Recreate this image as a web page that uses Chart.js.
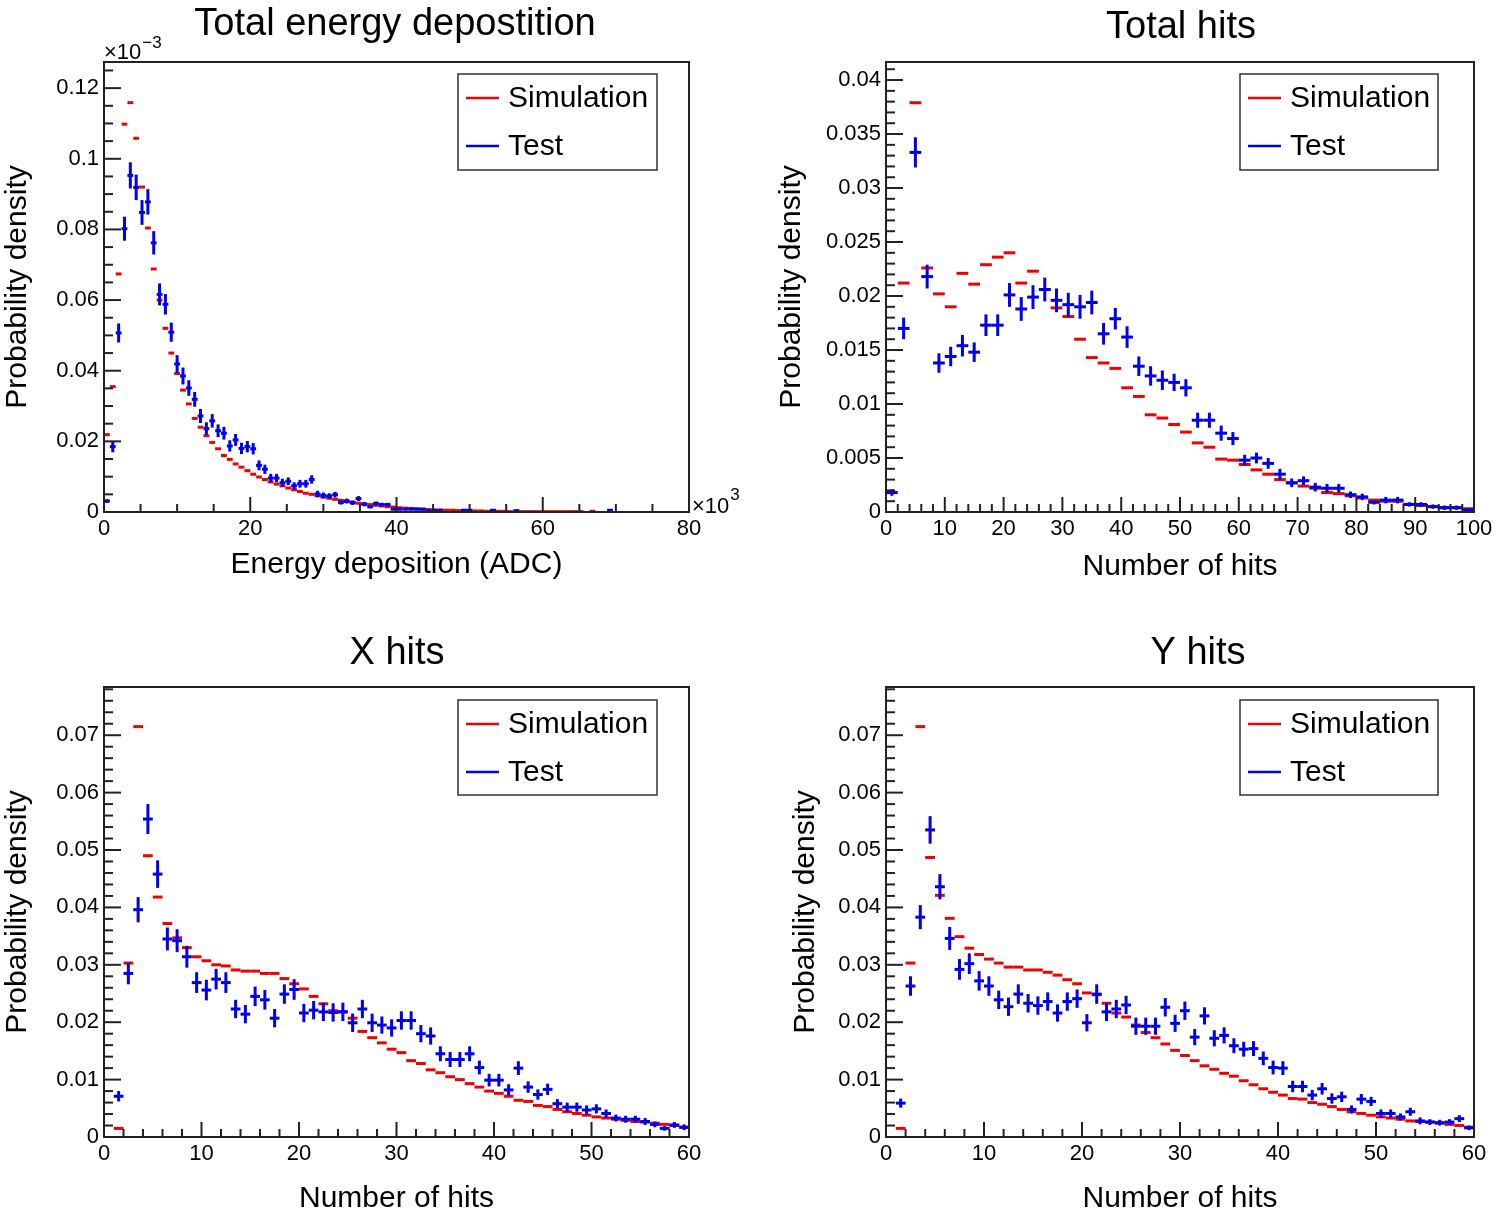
<!DOCTYPE html>
<html>
<head>
<meta charset="utf-8">
<script src="https://cdn.jsdelivr.net/npm/chart.js@4.4.1/dist/chart.umd.min.js"></script>
<style>
    html, body { margin: 0; padding: 0; background: #fff; }
    #grid { position: relative; width: 1502px; height: 1214px; }
    .cell { position: absolute; width: 751px; height: 607px; }
</style>
</head>
<body>
<div id="grid">
    <div class="cell" style="left:0;top:0"><canvas id="cEnergy" width="751" height="607"></canvas></div>
    <div class="cell" style="left:751px;top:0"><canvas id="cHits" width="751" height="607"></canvas></div>
    <div class="cell" style="left:0;top:607px"><canvas id="cXHits" width="751" height="607"></canvas></div>
    <div class="cell" style="left:751px;top:607px"><canvas id="cYHits" width="751" height="607"></canvas></div>
</div>
<script>
// DADOS: DEPOSICAO TOTAL DE ENERGIA (bins de 0.8 x10^3 ADC)
const energyBinWidth = 0.8;
const energyXTicks = [0, 20, 40, 60, 80];
const energyYTicks = [0, 0.02, 0.04, 0.06, 0.08, 0.1, 0.12];
const energySim = [
    0.0219, 0.0355, 0.0674, 0.1098, 0.1159, 0.1058, 0.0920, 0.0804, 0.0688, 0.0600,
    0.0520, 0.0450, 0.0392, 0.0345, 0.0306, 0.0265, 0.0240, 0.0216, 0.0197, 0.0179,
    0.0160, 0.0149, 0.0136, 0.0127, 0.0117, 0.0107, 0.0099, 0.0092, 0.0085, 0.0079,
    0.0074, 0.0068, 0.0063, 0.0058, 0.0053, 0.0050, 0.0046, 0.0042, 0.0039, 0.0036,
    0.0033, 0.0030, 0.0028, 0.0025, 0.0023, 0.0021, 0.0019, 0.0017, 0.0015, 0.0014,
    0.0012, 0.0011, 0.0010, 0.0009, 0.0008, 0.0007, 0.0006, 0.0006, 0.0005, 0.0005,
    0.0004, 0.0004, 0.0003, 0.0003, 0.0003, 0.0002, 0.0002, 0.0002, 0.0002, 0.0001,
    0.0001, 0.0001, 0.0001, 0.0001, 0.0001, 0.0001, 0.0001, 0.0001, 0.0001, 0.0001,
    0.0001, 0.0001, null, 0.0002
];
const energyTest = [
    0.0031, 0.0185, 0.0507, 0.0802, 0.0953, 0.0919, 0.0848, 0.0878, 0.0762, 0.0616,
    0.0588, 0.0509, 0.0419, 0.0385, 0.0351, 0.0319, 0.0272, 0.0236, 0.0258, 0.0230,
    0.0223, 0.0187, 0.0204, 0.0180, 0.0185, 0.0179, 0.0132, 0.0121, 0.0096, 0.0096,
    0.0083, 0.0087, 0.0074, 0.0080, 0.0080, 0.0092, 0.0051, 0.0047, 0.0045, 0.0049,
    0.0027, 0.0031, 0.0026, 0.0038, 0.0022, 0.0015, 0.0024, 0.0021, 0.0021, 0.0008,
    0.0008, 0.0008, 0.0008, 0.0008, 0.0008, 0.0004, 0.0004, 0.0004, null, null,
    null, 0.0005, 0.0005, null, null, null, 0.0005, null, null, null,
    0.0004, null, null, null, null, null, null, null, null, null,
    null, null, null, null, null, null, 0.0005
];
const energyTestErr = [
    0.0005, 0.0016, 0.0027, 0.0034, 0.0037, 0.0036, 0.0035, 0.0036, 0.0033, 0.0031,
    0.0029, 0.0027, 0.0025, 0.0024, 0.0022, 0.0021, 0.0020, 0.0018, 0.0019, 0.0018,
    0.0018, 0.0016, 0.0017, 0.0016, 0.0016, 0.0016, 0.0014, 0.0013, 0.0012, 0.0012,
    0.0011, 0.0011, 0.0010, 0.0011, 0.0011, 0.0012, 0.0009, 0.0008, 0.0008, 0.0008,
    0.0006, 0.0007, 0.0006, 0.0007, 0.0006, 0.0005, 0.0006, 0.0005, 0.0005, 0.0003,
    0.0003, 0.0003, 0.0003, 0.0003, 0.0003, 0.0002, 0.0002, 0.0002, null, null,
    null, 0.0002, 0.0002, null, null, null, 0.0002, null, null, null,
    0.0002, null, null, null, null, null, null, null, null, null,
    null, null, null, null, null, null, 0.0002
];

// DADOS: TOTAL DE HITS (bins de 2)
const hitsBinWidth = 2;
const hitsXTicks = [0, 10, 20, 30, 40, 50, 60, 70, 80, 90, 100];
const hitsYTicks = [0, 0.005, 0.01, 0.015, 0.02, 0.025, 0.03, 0.035, 0.04];
const hitsSim = [
    null, 0.0212, 0.0379, 0.0226, 0.0202, 0.0190, 0.0221, 0.0211, 0.0229, 0.0236,
    0.0240, 0.0212, 0.0223, 0.0206, 0.0189, 0.0181, 0.0160, 0.0143, 0.0138, 0.0133,
    0.0115, 0.0107, 0.0090, 0.0087, 0.0081, 0.0074, 0.0064, 0.0060, 0.0049, 0.0048,
    0.0044, 0.0039, 0.0035, 0.0030, 0.0027, 0.0024, 0.0022, 0.0018, 0.0017, 0.0015,
    0.0013, 0.0011, 0.0010, 0.0010, 0.0007, 0.0006, 0.0005, 0.0004, 0.0004, 0.0003
];
const hitsTest = [
    0.0018, 0.0170, 0.0333, 0.0218, 0.0138, 0.0144, 0.0154, 0.0148, 0.0173, 0.0173,
    0.0201, 0.0188, 0.0199, 0.0206, 0.0196, 0.0192, 0.0190, 0.0194, 0.0165, 0.0179,
    0.0162, 0.0135, 0.0126, 0.0122, 0.0120, 0.0115, 0.0085, 0.0085, 0.0073, 0.0068,
    0.0048, 0.0050, 0.0045, 0.0035, 0.0027, 0.0029, 0.0023, 0.0022, 0.0022, 0.0016,
    0.0014, 0.0009, 0.0011, 0.0011, 0.0007, 0.0007, 0.0005, 0.0004, 0.0004, 0.0002
];
const hitsTestErr = [
    0.0003, 0.0010, 0.0014, 0.0011, 0.0009, 0.0009, 0.0010, 0.0009, 0.0010, 0.0010,
    0.0011, 0.0011, 0.0011, 0.0011, 0.0011, 0.0011, 0.0011, 0.0011, 0.0010, 0.0010,
    0.0010, 0.0009, 0.0009, 0.0009, 0.0008, 0.0008, 0.0007, 0.0007, 0.0007, 0.0006,
    0.0005, 0.0005, 0.0005, 0.0005, 0.0004, 0.0004, 0.0004, 0.0004, 0.0004, 0.0003,
    0.0003, 0.0002, 0.0003, 0.0003, 0.0002, 0.0002, 0.0002, 0.0002, 0.0002, 0.0001
];

// DADOS: X HITS E Y HITS (bins de 1)
const nHitsBinWidth = 1;
const nHitsXTicks = [0, 10, 20, 30, 40, 50, 60];
const nHitsYTicks = [0, 0.01, 0.02, 0.03, 0.04, 0.05, 0.06, 0.07];
const xHitsSim = [
    null, 0.0015, 0.0303, 0.0715, 0.0490, 0.0418, 0.0372, 0.0347, 0.0330, 0.0314,
    0.0307, 0.0300, 0.0298, 0.0291, 0.0289, 0.0289, 0.0285, 0.0285, 0.0276, 0.0267,
    0.0258, 0.0245, 0.0232, 0.0220, 0.0218, 0.0207, 0.0184, 0.0173, 0.0164, 0.0153,
    0.0147, 0.0133, 0.0128, 0.0117, 0.0112, 0.0105, 0.0100, 0.0093, 0.0087, 0.0080,
    0.0076, 0.0071, 0.0064, 0.0062, 0.0055, 0.0053, 0.0048, 0.0044, 0.0041, 0.0038,
    0.0035, 0.0033, 0.0031, 0.0029, 0.0027, 0.0026, 0.0024, 0.0022, 0.0020, 0.0017
];
const xHitsTest = [
    null, 0.0071, 0.0285, 0.0396, 0.0554, 0.0458, 0.0345, 0.0342, 0.0314, 0.0269,
    0.0256, 0.0275, 0.0269, 0.0223, 0.0214, 0.0245, 0.0239, 0.0207, 0.0249, 0.0257,
    0.0216, 0.0221, 0.0218, 0.0217, 0.0218, 0.0199, 0.0223, 0.0199, 0.0195, 0.0190,
    0.0203, 0.0203, 0.0180, 0.0176, 0.0145, 0.0135, 0.0135, 0.0145, 0.0121, 0.0099,
    0.0099, 0.0082, 0.0120, 0.0087, 0.0074, 0.0083, 0.0058, 0.0052, 0.0052, 0.0047,
    0.0049, 0.0041, 0.0033, 0.0031, 0.0031, 0.0027, 0.0022, 0.0015, 0.0021, 0.0017
];
const xHitsTestErr = [
    null, 0.0009, 0.0019, 0.0022, 0.0026, 0.0024, 0.0020, 0.0020, 0.0019, 0.0018,
    0.0018, 0.0018, 0.0018, 0.0016, 0.0016, 0.0017, 0.0017, 0.0016, 0.0017, 0.0018,
    0.0016, 0.0016, 0.0016, 0.0016, 0.0016, 0.0016, 0.0016, 0.0016, 0.0015, 0.0015,
    0.0016, 0.0016, 0.0015, 0.0015, 0.0013, 0.0013, 0.0013, 0.0013, 0.0012, 0.0011,
    0.0011, 0.0010, 0.0012, 0.0010, 0.0009, 0.0010, 0.0008, 0.0008, 0.0008, 0.0008,
    0.0008, 0.0007, 0.0006, 0.0006, 0.0006, 0.0006, 0.0005, 0.0004, 0.0005, 0.0005
];
const yHitsSim = [
    null, 0.0015, 0.0303, 0.0715, 0.0487, 0.0421, 0.0381, 0.0349, 0.0329, 0.0318,
    0.0310, 0.0303, 0.0296, 0.0296, 0.0291, 0.0291, 0.0287, 0.0282, 0.0274, 0.0267,
    0.0251, 0.0248, 0.0233, 0.0216, 0.0209, 0.0195, 0.0182, 0.0173, 0.0162, 0.0151,
    0.0142, 0.0133, 0.0124, 0.0118, 0.0111, 0.0106, 0.0098, 0.0091, 0.0084, 0.0078,
    0.0073, 0.0067, 0.0066, 0.0060, 0.0057, 0.0053, 0.0048, 0.0044, 0.0041, 0.0038,
    0.0035, 0.0033, 0.0031, 0.0028, 0.0027, 0.0026, 0.0024, 0.0022, 0.0020, 0.0017
];
const yHitsTest = [
    null, 0.0059, 0.0263, 0.0383, 0.0535, 0.0436, 0.0346, 0.0292, 0.0302, 0.0272,
    0.0263, 0.0239, 0.0227, 0.0249, 0.0233, 0.0229, 0.0236, 0.0216, 0.0236, 0.0241,
    0.0199, 0.0249, 0.0218, 0.0223, 0.0230, 0.0193, 0.0193, 0.0193, 0.0226, 0.0198,
    0.0220, 0.0174, 0.0211, 0.0172, 0.0177, 0.0159, 0.0153, 0.0154, 0.0137, 0.0121,
    0.0120, 0.0088, 0.0088, 0.0073, 0.0084, 0.0067, 0.0070, 0.0048, 0.0066, 0.0062,
    0.0041, 0.0041, 0.0035, 0.0044, 0.0028, 0.0026, 0.0025, 0.0026, 0.0032, 0.0016
];
const yHitsTestErr = [
    null, 0.0008, 0.0017, 0.0021, 0.0024, 0.0022, 0.0020, 0.0018, 0.0018, 0.0017,
    0.0017, 0.0016, 0.0016, 0.0017, 0.0016, 0.0016, 0.0016, 0.0015, 0.0016, 0.0016,
    0.0015, 0.0017, 0.0016, 0.0016, 0.0016, 0.0015, 0.0015, 0.0015, 0.0016, 0.0015,
    0.0016, 0.0014, 0.0015, 0.0014, 0.0014, 0.0013, 0.0013, 0.0013, 0.0012, 0.0012,
    0.0012, 0.0010, 0.0010, 0.0009, 0.0010, 0.0009, 0.0009, 0.0007, 0.0009, 0.0008,
    0.0007, 0.0007, 0.0006, 0.0007, 0.0006, 0.0005, 0.0005, 0.0005, 0.0006, 0.0004
];

// ESTILO
const FONT = '"Liberation Sans", Arial, Helvetica, sans-serif';
const RED = '#f00000';
const BLUE = '#0000f0';
const W = 751, H = 607;

// CONFIGURACAO DOS PAINEIS
const panels = [
    { id: 'cEnergy', title: 'Total energy depostition', titleX: 395, titleY: 25,
      xTitle: 'Energy deposition (ADC)', xTitlePad: 24, yTitlePad: 0,
      area: { l: 104, r: 689, t: 62, b: 512 },
      xMax: 80, xTicks: energyXTicks, xMinor: 5, yMax: 0.1274, yTicks: energyYTicks, yMinor: 0.005,
      bw: energyBinWidth, sim: energySim, test: energyTest, err: energyTestErr,
      legend: { x: 458, y: 74, w: 199, h: 96 }, exponents: true },
    { id: 'cHits', title: 'Total hits', titleX: 430, titleY: 28,
      xTitle: 'Number of hits', xTitlePad: 22, yTitlePad: 23,
      area: { l: 135, r: 723, t: 62, b: 512 },
      xMax: 100, xTicks: hitsXTicks, xMinor: 2, yMax: 0.04167, yTicks: hitsYTicks, yMinor: 0.001,
      bw: hitsBinWidth, sim: hitsSim, test: hitsTest, err: hitsTestErr,
      legend: { x: 489, y: 74, w: 198, h: 96 } },
    { id: 'cXHits', title: 'X hits', titleX: 397, titleY: 47,
      xTitle: 'Number of hits', xTitlePad: -3, yTitlePad: 0,
      area: { l: 104, r: 689, t: 80, b: 530 },
      xMax: 60, xTicks: nHitsXTicks, xMinor: 2, yMax: 0.0784, yTicks: nHitsYTicks, yMinor: 0.002,
      bw: nHitsBinWidth, sim: xHitsSim, test: xHitsTest, err: xHitsTestErr,
      legend: { x: 458, y: 93, w: 199, h: 95 } },
    { id: 'cYHits', title: 'Y hits', titleX: 447, titleY: 47,
      xTitle: 'Number of hits', xTitlePad: -3, yTitlePad: 37,
      area: { l: 135, r: 723, t: 80, b: 530 },
      xMax: 60, xTicks: nHitsXTicks, xMinor: 2, yMax: 0.0784, yTicks: nHitsYTicks, yMinor: 0.002,
      bw: nHitsBinWidth, sim: yHitsSim, test: yHitsTest, err: yHitsTestErr,
      legend: { x: 489, y: 93, w: 198, h: 95 } }
];

// transforma um array de bins em pontos {x, y, err}
function toPoints(vals, errs, bw) {
    const pts = [];
    vals.forEach((v, i) => {
        if (v === null) return;
        pts.push({ x: (i + 0.5) * bw, y: v, err: errs ? errs[i] : 0 });
    });
    return pts;
}

// meia largura do bin em pixels (para o marcador 'line')
function halfBin(chart, bw) {
    const xs = chart.scales.x;
    return Math.abs(xs.getPixelForValue(bw) - xs.getPixelForValue(0)) / 2;
}

function line(ctx, x1, y1, x2, y2) {
    ctx.beginPath();
    ctx.moveTo(x1, y1);
    ctx.lineTo(x2, y2);
    ctx.stroke();
}

// PLUGIN: barras de erro, moldura, ticks internos, legenda e titulo (estilo ROOT)
function rootPlugin(p) {
    return {
        id: 'rootStyle',
        afterDatasetsDraw(chart) {
            const ctx = chart.ctx;
            const ys = chart.scales.y;
            const meta = chart.getDatasetMeta(1);
            const data = chart.data.datasets[1].data;
            ctx.save();
            ctx.strokeStyle = BLUE;
            ctx.lineWidth = 3;
            meta.data.forEach((el, i) => {
                const d = data[i];
                if (!d.err) return;
                line(ctx, el.x, ys.getPixelForValue(d.y + d.err), el.x, ys.getPixelForValue(d.y - d.err));
            });
            ctx.restore();
        },
        afterDraw(chart) {
            const ctx = chart.ctx;
            const a = chart.chartArea;
            const xs = chart.scales.x, ys = chart.scales.y;
            ctx.save();

            // moldura
            ctx.strokeStyle = '#222';
            ctx.lineWidth = 2;
            ctx.strokeRect(a.left, a.top, a.right - a.left, a.bottom - a.top);

            // ticks do eixo x
            const xMajor = p.xTicks[1] - p.xTicks[0];
            const nx = Math.round(p.xMax / p.xMinor);
            for (let i = 0; i <= nx; i++) {
                const v = i * p.xMinor;
                const major = Math.abs(v / xMajor - Math.round(v / xMajor)) < 1e-6;
                const px = xs.getPixelForValue(v);
                line(ctx, px, a.bottom, px, a.bottom - (major ? 15 : 8));
            }
            // ticks do eixo y
            const yMajor = p.yTicks[1] - p.yTicks[0];
            const ny = Math.floor(p.yMax / p.yMinor + 1e-6);
            for (let i = 0; i <= ny; i++) {
                const v = i * p.yMinor;
                const major = Math.abs(v / yMajor - Math.round(v / yMajor)) < 1e-6;
                const py = ys.getPixelForValue(v);
                line(ctx, a.left, py, a.left + (major ? 17 : 9), py);
            }

            // titulo
            ctx.fillStyle = '#000';
            ctx.font = '38px ' + FONT;
            ctx.textAlign = 'center';
            ctx.textBaseline = 'middle';
            ctx.fillText(p.title, p.titleX, p.titleY);

            // legenda
            const L = p.legend;
            ctx.strokeStyle = '#333';
            ctx.lineWidth = 1.5;
            ctx.strokeRect(L.x, L.y, L.w, L.h);
            ctx.font = '30px ' + FONT;
            ctx.textAlign = 'left';
            chart.data.datasets.forEach((ds, i) => {
                const y = L.y + 24 + i * 48;
                ctx.strokeStyle = ds.pointBorderColor;
                ctx.lineWidth = 2.5;
                line(ctx, L.x + 8, y, L.x + 41, y);
                ctx.fillText(ds.label, L.x + 50, y + 1);
            });

            // fatores de escala (x10^-3 e x10^3)
            if (p.exponents) {
                ctx.textBaseline = 'alphabetic';
                ctx.font = '22px ' + FONT;
                ctx.fillText('\u00d710', a.left, a.top - 3);
                let w = ctx.measureText('\u00d710').width;
                ctx.font = '17px ' + FONT;
                ctx.fillText('\u22123', a.left + w + 1, a.top - 14);
                ctx.font = '22px ' + FONT;
                ctx.fillText('\u00d710', a.right + 3, a.bottom + 1);
                w = ctx.measureText('\u00d710').width;
                ctx.font = '17px ' + FONT;
                ctx.fillText('3', a.right + 4 + w, a.bottom - 12);
            }
            ctx.restore();
        }
    };
}

const tickLabel = v => String(+Number(v).toFixed(5));

// INICIALIZADOR DOS GRAFICOS
panels.forEach(p => {
    const ctx = document.getElementById(p.id).getContext('2d');
    new Chart(ctx, {
        type: 'scatter',
        data: {
            datasets: [
                { label: 'Simulation', data: toPoints(p.sim, null, p.bw), order: 2,
                  pointStyle: 'line', pointBorderColor: RED, pointBackgroundColor: RED, pointBorderWidth: 3,
                  pointRadius: c => halfBin(c.chart, p.bw) },
                { label: 'Test', data: toPoints(p.test, p.err, p.bw), order: 1,
                  pointStyle: 'line', pointBorderColor: BLUE, pointBackgroundColor: BLUE, pointBorderWidth: 3,
                  pointRadius: c => halfBin(c.chart, p.bw) }
            ]
        },
        options: {
            responsive: false,
            animation: false,
            devicePixelRatio: 1,
            events: [],
            layout: { padding: { left: 0, top: p.area.t, right: W - p.area.r, bottom: 0 } },
            plugins: { legend: { display: false }, tooltip: { enabled: false } },
            scales: {
                x: {
                    type: 'linear', min: 0, max: p.xMax,
                    afterBuildTicks: s => { s.ticks = p.xTicks.map(v => ({ value: v })); },
                    afterFit: s => { s.height = H - p.area.b; },
                    grid: { display: false, drawTicks: false },
                    border: { display: false },
                    ticks: { color: '#000', font: { family: FONT, size: 22 }, padding: 4,
                             maxRotation: 0, autoSkip: false, callback: tickLabel },
                    title: { display: true, text: p.xTitle, color: '#000',
                             font: { family: FONT, size: 30 }, padding: { top: 0, bottom: p.xTitlePad } }
                },
                y: {
                    type: 'linear', min: 0, max: p.yMax,
                    afterBuildTicks: s => { s.ticks = p.yTicks.map(v => ({ value: v })); },
                    afterFit: s => { s.width = p.area.l; },
                    grid: { display: false, drawTicks: false },
                    border: { display: false },
                    ticks: { color: '#000', font: { family: FONT, size: 22 }, padding: 5,
                             autoSkip: false, callback: tickLabel },
                    title: { display: true, text: 'Probability density', color: '#000',
                             font: { family: FONT, size: 30 }, padding: { top: p.yTitlePad, bottom: 0 } }
                }
            }
        },
        plugins: [rootPlugin(p)]
    });
});
</script>
</body>
</html>
